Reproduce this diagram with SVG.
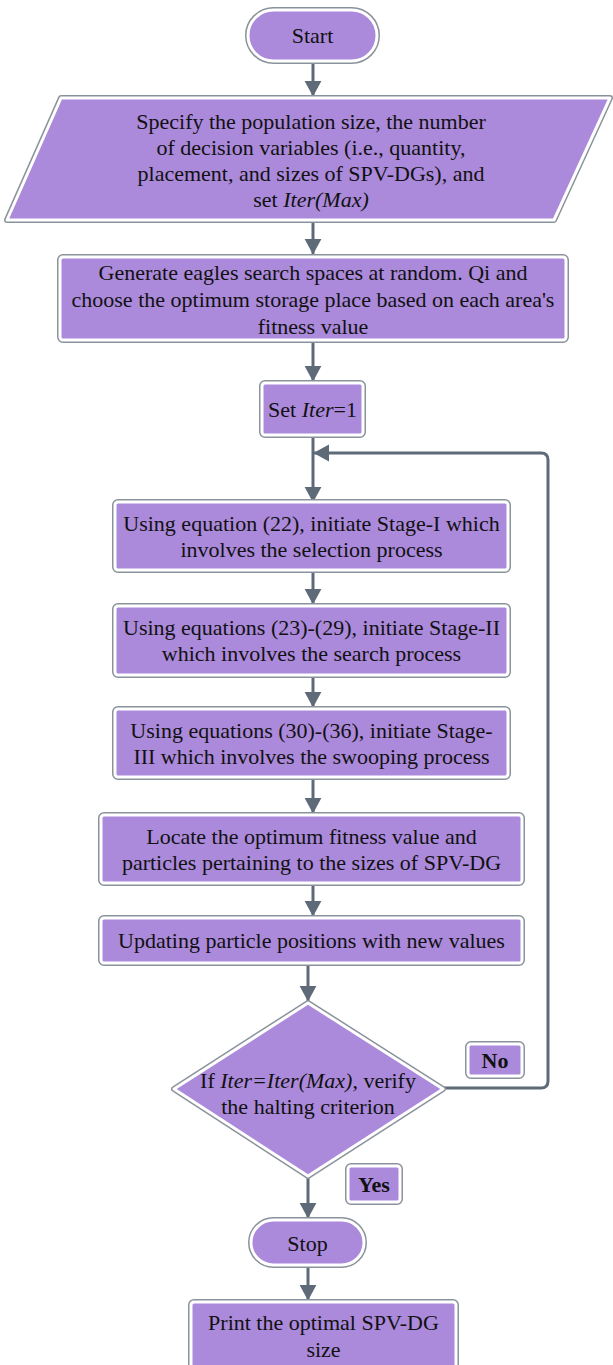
<svg xmlns="http://www.w3.org/2000/svg" width="613" height="1365" viewBox="0 0 613 1365">
<style>
.o{fill:none;stroke:#8a929c;stroke-width:6;stroke-linejoin:round}
.i{fill:#ab89db;stroke:#ffffff;stroke-width:3;stroke-linejoin:round}
.t{font-family:"Liberation Serif","Times New Roman",serif;font-size:22px;fill:#111;text-anchor:middle}
.b{font-weight:bold}
.c{fill:none;stroke:#5f6a78;stroke-width:3}
</style>
<defs>
<marker id="ah" markerWidth="6" markerHeight="6" refX="5" refY="3" orient="auto" markerUnits="strokeWidth">
<path d="M0,0.2 L5.2,3 L0,5.8 Z" fill="#5f6a78"/>
</marker>
</defs>
<rect width="613" height="1365" fill="#ffffff"/>
<g id="connectors">
<line class="c" x1="313" y1="61" x2="313" y2="96" marker-end="url(#ah)"/>
<line class="c" x1="313" y1="221" x2="313" y2="254" marker-end="url(#ah)"/>
<line class="c" x1="313" y1="341" x2="313" y2="381" marker-end="url(#ah)"/>
<line class="c" x1="313" y1="436" x2="313" y2="502" marker-end="url(#ah)"/>
<line class="c" x1="313" y1="571" x2="313" y2="604" marker-end="url(#ah)"/>
<line class="c" x1="313" y1="676" x2="313" y2="707" marker-end="url(#ah)"/>
<line class="c" x1="313" y1="778" x2="313" y2="813" marker-end="url(#ah)"/>
<line class="c" x1="313" y1="884" x2="313" y2="916" marker-end="url(#ah)"/>
<line class="c" x1="308" y1="964" x2="308" y2="1001" marker-end="url(#ah)"/>
<line class="c" x1="308" y1="1178" x2="308" y2="1218" marker-end="url(#ah)"/>
<line class="c" x1="308" y1="1266" x2="308" y2="1300" marker-end="url(#ah)"/>
<path class="c" d="M444,1088 H541 Q548,1088 548,1081 V460 Q548,453 541,453 H314" marker-end="url(#ah)"/>
</g>
<g id="start">
<rect class="o" x="248" y="10" width="129" height="51" rx="25.5"/>
<rect class="i" x="248" y="10" width="129" height="51" rx="25.5"/>
<text class="t" x="312.5" y="43">Start</text>
</g>
<g id="input">
<path class="o" d="M61,98 H610 L554,220 H7 Z"/>
<path class="i" d="M61,98 H610 L554,220 H7 Z"/>
<text class="t" x="311" y="129">Specify the population size, the number</text>
<text class="t" x="311" y="155">of decision variables (i.e., quantity,</text>
<text class="t" x="311" y="181">placement, and sizes of SPV-DGs), and</text>
<text class="t" x="311" y="207">set <tspan font-style="italic">Iter(Max)</tspan></text>
</g>
<g id="generate">
<rect class="o" x="60" y="257" width="506" height="83" rx="3"/>
<rect class="i" x="60" y="257" width="506" height="83" rx="3"/>
<text class="t" x="313" y="280">Generate eagles search spaces at random. Qi and</text>
<text class="t" x="313" y="307">choose the optimum storage place based on each area's</text>
<text class="t" x="313" y="334">fitness value</text>
</g>
<g id="setiter">
<rect class="o" x="262" y="383" width="101" height="52" rx="3"/>
<rect class="i" x="262" y="383" width="101" height="52" rx="3"/>
<text class="t" x="312.5" y="417">Set <tspan font-style="italic">Iter</tspan>=1</text>
</g>
<g id="stage1">
<rect class="o" x="115" y="502" width="393" height="68" rx="3"/>
<rect class="i" x="115" y="502" width="393" height="68" rx="3"/>
<text class="t" x="311.5" y="531">Using equation (22), initiate Stage-I which</text>
<text class="t" x="311.5" y="557">involves the selection process</text>
</g>
<g id="stage2">
<rect class="o" x="115" y="606" width="393" height="69" rx="3"/>
<rect class="i" x="115" y="606" width="393" height="69" rx="3"/>
<text class="t" x="311.5" y="635">Using equations (23)-(29), initiate Stage-II</text>
<text class="t" x="311.5" y="661">which involves the search process</text>
</g>
<g id="stage3">
<rect class="o" x="115" y="709" width="393" height="68" rx="3"/>
<rect class="i" x="115" y="709" width="393" height="68" rx="3"/>
<text class="t" x="311.5" y="738">Using equations (30)-(36), initiate Stage-</text>
<text class="t" x="311.5" y="764">III which involves the swooping process</text>
</g>
<g id="locate">
<rect class="o" x="101" y="815" width="421" height="68" rx="3"/>
<rect class="i" x="101" y="815" width="421" height="68" rx="3"/>
<text class="t" x="311.5" y="844">Locate the optimum fitness value and</text>
<text class="t" x="311.5" y="870">particles pertaining to the sizes of SPV-DG</text>
</g>
<g id="update">
<rect class="o" x="101" y="918" width="421" height="45" rx="3"/>
<rect class="i" x="101" y="918" width="421" height="45" rx="3"/>
<text class="t" x="311.5" y="948">Updating particle positions with new values</text>
</g>
<g id="decision">
<path class="o" d="M308,1003 L443,1089 L308,1176 L174,1089 Z"/>
<path class="i" d="M308,1003 L443,1089 L308,1176 L174,1089 Z"/>
<text class="t" x="308" y="1088">If <tspan font-style="italic">Iter=Iter(Max)</tspan>, verify</text>
<text class="t" x="308" y="1114">the halting criterion</text>
</g>
<g id="no">
<rect class="o" x="468" y="1044" width="54" height="32" rx="3"/>
<rect class="i" x="468" y="1044" width="54" height="32" rx="3"/>
<text class="t b" x="495" y="1068">No</text>
</g>
<g id="yes">
<rect class="o" x="348" y="1166" width="52" height="36" rx="3"/>
<rect class="i" x="348" y="1166" width="52" height="36" rx="3"/>
<text class="t b" x="374" y="1192">Yes</text>
</g>
<g id="stop">
<rect class="o" x="251" y="1220" width="113" height="45" rx="22.5"/>
<rect class="i" x="251" y="1220" width="113" height="45" rx="22.5"/>
<text class="t" x="307.5" y="1251">Stop</text>
</g>
<g id="print">
<rect class="o" x="191" y="1302" width="265" height="66" rx="3"/>
<rect class="i" x="191" y="1302" width="265" height="66" rx="3"/>
<text class="t" x="323.5" y="1330">Print the optimal SPV-DG</text>
<text class="t" x="323.5" y="1357">size</text>
</g>
</svg>
